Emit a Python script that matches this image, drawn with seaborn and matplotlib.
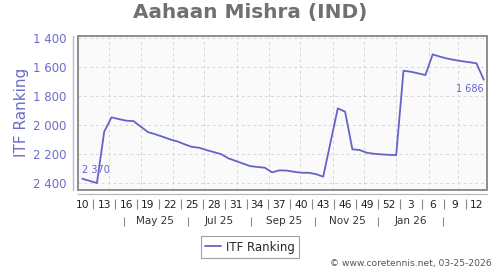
import datetime as dt
import matplotlib
matplotlib.use("Agg")
import matplotlib.pyplot as plt
from matplotlib.patches import Rectangle
import pandas as pd
import seaborn as sns

# ---------------- data ----------------
# running week number (10 = week 10 of 2025, 53 = week 1 of 2026, 65 = week 13 of 2026)
week_index = list(range(10, 66))
ranking = [2370, 2385, 2400, 2045, 1946, 1958, 1969, 1972, 2010, 2048,
           2063, 2080, 2098, 2112, 2132, 2150, 2156, 2172, 2186, 2200,
           2229, 2247, 2265, 2283, 2289, 2294, 2326, 2312, 2314, 2322,
           2329, 2329, 2338, 2356, 2120, 1884, 1907, 2167, 2172, 2191,
           2198, 2202, 2205, 2207, 1624, 1631, 1642, 1654, 1511, 1527,
           1540, 1550, 1558, 1565, 1573, 1686]
series_name = "ITF Ranking"

week_tick_pos = [10, 13, 16, 19, 22, 25, 28, 31, 34, 37, 40, 43, 46, 49, 52, 55, 58, 61, 64]
week_tick_labels = ["10", "13", "16", "19", "22", "25", "28", "31", "34", "37",
                    "40", "43", "46", "49", "52", "3", "6", "9", "12"]
y_ticks = [1400, 1600, 1800, 2000, 2200, 2400]
y_tick_labels = ["1 400", "1 600", "1 800", "2 000", "2 200", "2 400"]
month_labels = ["May 25", "Jul 25", "Sep 25", "Nov 25", "Jan 26"]
month_label_dates = ["2025-05-15", "2025-07-15", "2025-09-15", "2025-11-15", "2026-01-15"]
month_sep_dates = ["2025-04-15", "2025-06-15", "2025-08-15", "2025-10-15",
                   "2025-12-15", "2026-02-15"]
grid_month_dates = ["2025-04-01", "2025-05-01", "2025-06-01", "2025-07-01",
                    "2025-08-01", "2025-09-01", "2025-10-01", "2025-11-01",
                    "2025-12-01", "2026-01-01", "2026-02-01", "2026-03-01"]
title = "Aahaan Mishra (IND)"
credit = "\u00a9 www.coretennis.net, 03-25-2026"

# ---------------- helpers ----------------
ref_date = dt.date(2025, 3, 6)  # middle of week 10, 2025


def date_pos(s):
    d = dt.date.fromisoformat(s)
    return 10 + (d - ref_date).days / 7.0


def fmt(v):
    return f"{v:,}".replace(",", " ")


# ---------------- figure ----------------
sns.set_style("white")
plt.rcParams["font.family"] = ["DejaVu Sans"]

fig = plt.figure(figsize=(5.0, 2.7), dpi=100)
L, R, T, B = 78.3, 486.7, 35.7, 190.0
ax = fig.add_axes([L / 500, 1 - B / 270, (R - L) / 500, (B - T) / 270])
ax.set_facecolor("#fafafa")

line_color = "#6464c8"
df = pd.DataFrame({"week": week_index, series_name: ranking})
sns.lineplot(data=df, x="week", y=series_name, ax=ax, color=line_color,
             linewidth=1.3, label=series_name, zorder=4)

ax.set_xlim(9.45, 65.4)
ax.set_ylim(2448, 1382)

# frame
ax.add_patch(Rectangle((0, 0), 1, 1, transform=ax.transAxes, fill=False,
                       edgecolor="#7a7a7a", linewidth=1.2, zorder=6, clip_on=False))
ax.spines["top"].set_visible(False)
ax.spines["right"].set_visible(False)
ax.spines["left"].set_position(("outward", 4.0))
ax.spines["left"].set_color("#b8b8e2")
ax.spines["left"].set_linewidth(1.0)
ax.spines["bottom"].set_position(("outward", 3.1))
ax.spines["bottom"].set_color("#bbbbbb")
ax.spines["bottom"].set_linewidth(0.9)

# y axis
ax.set_yticks(y_ticks, labels=y_tick_labels)
ax.tick_params(axis="y", direction="inout", length=3.5, width=0.8, color="#b8b8e2",
               pad=3, labelsize=8.5, labelcolor="#6c6cc6")
ax.set_ylabel(series_name, fontsize=11, color="#6c6cc6")
ax.yaxis.label.set_va("center")
ax.yaxis.set_label_coords(-0.1396, 0.5)
ax.set_xlabel("")

# x axis: month grid ticks (major) + week labels (minor)
grid_pos = [date_pos(s) for s in grid_month_dates]
ax.set_xticks(grid_pos, labels=[""] * len(grid_pos))
ax.set_xticks(week_tick_pos, labels=week_tick_labels, minor=True)
ax.tick_params(axis="x", which="major", direction="inout", length=4, width=0.8,
               color="#bbbbbb")
ax.tick_params(axis="x", which="minor", length=0, pad=4.2, labelsize=7.7,
               labelcolor="#222222")

ax.grid(True, which="major", linestyle=(0, (3, 3)), color="#d6d6d6", linewidth=0.7)
ax.set_axisbelow(True)

xt = ax.get_xaxis_transform()
h_ax = B - T
seps = [(week_tick_pos[i] + week_tick_pos[i + 1]) / 2 for i in range(len(week_tick_pos) - 1)]
ax.vlines(seps, -(199.3 - B) / h_ax, -(209.0 - B) / h_ax, transform=xt,
          colors="#888888", linewidth=0.8, clip_on=False)

msep = [date_pos(s) for s in month_sep_dates]
ax.vlines(msep, -(216.7 - B) / h_ax, -(226.0 - B) / h_ax, transform=xt,
          colors="#888888", linewidth=0.8, clip_on=False)
for lab, d in zip(month_labels, month_label_dates):
    ax.text(date_pos(d), -(221.0 - B) / h_ax, lab, transform=xt, ha="center",
            va="center", fontsize=7.5, color="#333333", clip_on=False)

# first / last value labels
ax.annotate(fmt(ranking[0]), xy=(week_index[0], ranking[0]), xytext=(0, 6.2),
            textcoords="offset points", ha="left", va="center", fontsize=7.0,
            color=line_color)
ax.annotate(fmt(ranking[-1]), xy=(week_index[-1], ranking[-1]), xytext=(0, -7.0),
            textcoords="offset points", ha="right", va="center", fontsize=7.0,
            color=line_color)

# legend
leg = ax.legend(loc="center", bbox_to_anchor=(0.5, 1 - 247 / 270),
                bbox_transform=fig.transFigure, frameon=True, fancybox=False,
                edgecolor="#a0a0a0", fontsize=8.5, handlelength=1.4,
                borderpad=0.35, handletextpad=0.4, framealpha=1)
leg.get_frame().set_linewidth(0.8)

fig.text(0.5, 1 - 12.5 / 270, title, ha="center", va="center", fontsize=14.4,
         fontweight="bold", color="#707070")
fig.text(492 / 500, 1 - 263.3 / 270, credit, ha="right", va="center",
         fontsize=6.6, color="#555555")

fig.savefig("out.png", dpi=100)
